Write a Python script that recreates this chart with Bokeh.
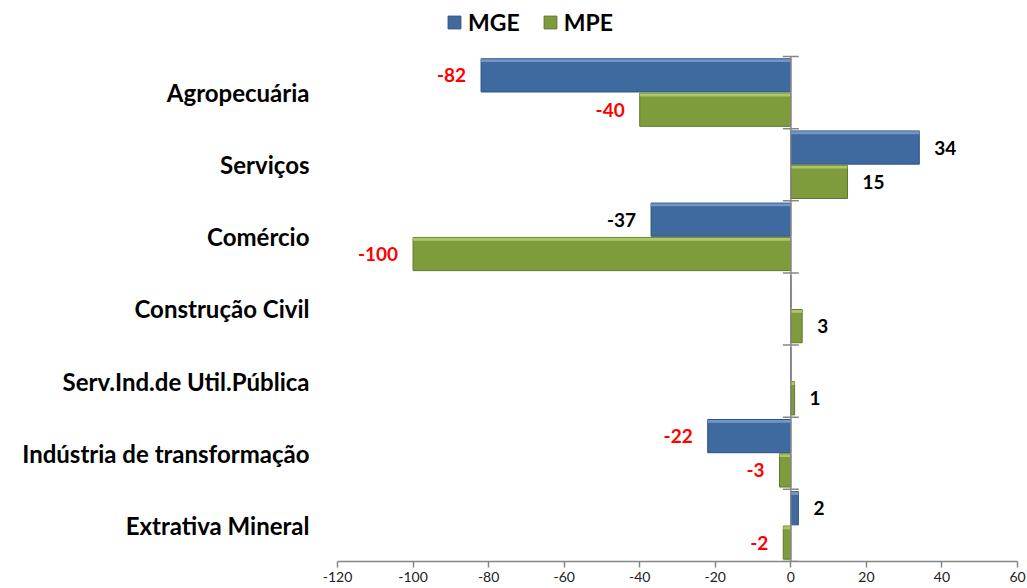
from bokeh.plotting import figure
from bokeh.models import (Range1d, ColumnDataSource, Legend, LegendItem,
                          FixedTicker)
from bokeh.core.properties import value
from bokeh.embed import file_html
from bokeh.resources import INLINE

# ---- data (top to bottom as displayed) ----
categories = ["Agropecuária", "Serviços", "Comércio", "Construção Civil",
              "Serv.Ind.de Util.Pública", "Indústria de transformação",
              "Extrativa Mineral"]
mge = [-82, 34, -37, 0, 0, -22, 2]
mpe = [-40, 15, -100, 3, 1, -3, -2]
mge_label_colors = ["#FF0000", "#000000", "#000000", "#000000", "#000000", "#FF0000", "#000000"]
mpe_label_colors = ["#FF0000", "#000000", "#FF0000", "#000000", "#000000", "#FF0000", "#FF0000"]
x_ticks = list(range(-120, 61, 20))
x_tick_labels = [str(t) for t in x_ticks]

FONT = "Lato"
BLUE, BLUE_LINE, BLUE_HI = "#3E6A9F", "#2E5180", "#7EA3D3"
GREEN, GREEN_LINE, GREEN_HI = "#7F9C3D", "#5F762B", "#B8D26E"

n = len(categories)
ypos = [n - 1 - i + 0.5 for i in range(n)]   # category centres, top first

W, H = 1027, 588
p = figure(width=W, height=H, output_backend="svg", toolbar_location=None,
           y_range=Range1d(0, n + 0.776),
           x_range=Range1d(x_ticks[0], x_ticks[-1]),
           min_border_left=337, min_border_right=10, min_border_top=0,
           min_border_bottom=27)
p.outline_line_color = None
p.background_fill_color = "white"
p.border_fill_color = "white"
p.grid.visible = False

def lbl(v):
    return "" if v == 0 else str(v)

BH = 0.46
OFF = 0.238
src = ColumnDataSource(dict(
    y=ypos, mge=mge, mpe=mpe,
    y_mge=[y + OFF for y in ypos], y_mpe=[y - OFF for y in ypos],
    y_mge_hi=[y + OFF + BH / 2 - 0.025 for y in ypos],
    y_mpe_hi=[y - OFF + BH / 2 - 0.025 for y in ypos],
    mge_txt=[lbl(v) for v in mge], mpe_txt=[lbl(v) for v in mpe],
    mge_col=mge_label_colors, mpe_col=mpe_label_colors,
    mge_align=["right" if v < 0 else "left" for v in mge],
    mpe_align=["right" if v < 0 else "left" for v in mpe],
    mge_off=[-15 if v < 0 else 15 for v in mge],
    mpe_off=[-15 if v < 0 else 15 for v in mpe],
))

blue = p.hbar(y="y_mge", left=0, right="mge", height=BH, source=src,
              fill_color=BLUE, line_color=BLUE_LINE, line_width=1)
p.hbar(y="y_mge_hi", left=0, right="mge", height=0.04, source=src,
       fill_color=BLUE_HI, line_color=None, fill_alpha=0.8)
green = p.hbar(y="y_mpe", left=0, right="mpe", height=BH, source=src,
               fill_color=GREEN, line_color=GREEN_LINE, line_width=1)
p.hbar(y="y_mpe_hi", left=0, right="mpe", height=0.04, source=src,
       fill_color=GREEN_HI, line_color=None, fill_alpha=0.8)

# data labels
for key in ("mge", "mpe"):
    p.text(x=key, y="y_" + key, text=key + "_txt", source=src,
           x_offset=key + "_off", text_align=key + "_align", text_baseline="middle",
           text_color=key + "_col", text_font=value(FONT), text_font_style="bold",
           text_font_size="19px")

# vertical category axis at x = 0 with boundary ticks
p.segment(x0=[0], x1=[0], y0=[0], y1=[n], line_color="#868686", line_width=1.5)
p.scatter(x=[0] * (n + 1), y=list(range(n + 1)), marker="dash", size=16,
          line_color="#868686", line_width=1.5)

# x axis
xa = p.xaxis[0]
xa.ticker = FixedTicker(ticks=x_ticks)
xa.major_label_overrides = dict(zip(x_ticks, x_tick_labels))
xa.axis_line_color = "#868686"
xa.axis_line_width = 1.5
xa.major_tick_line_color = "#868686"
xa.major_tick_line_width = 1.5
xa.major_tick_out = 6
xa.major_tick_in = 0
xa.minor_tick_line_color = None
xa.major_label_text_font = FONT
xa.major_label_text_font_size = "14px"
xa.major_label_text_color = "#222222"
xa.major_label_standoff = 4

# y axis (category labels)
ya = p.yaxis[0]
ya.ticker = FixedTicker(ticks=ypos)
ya.major_label_overrides = dict(zip(ypos, categories))
ya.axis_line_color = None
ya.major_tick_line_color = None
ya.minor_tick_line_color = None
ya.major_label_text_font = FONT
ya.major_label_text_font_style = "bold"
ya.major_label_text_font_size = "24px"
ya.major_label_text_color = "#000000"
ya.major_label_standoff = 22

legend = Legend(items=[LegendItem(label="MGE", renderers=[blue]),
                       LegendItem(label="MPE", renderers=[green])],
                orientation="horizontal", location=(109, 525),
                glyph_width=16, glyph_height=16, label_text_font=FONT,
                label_text_font_style="bold", label_text_font_size="23px",
                label_text_color="#000000",
                spacing=22, padding=4, margin=0, border_line_color=None,
                background_fill_alpha=0, label_standoff=6)
p.add_layout(legend, "center")

open("out.html", "w").write(file_html(p, INLINE))
